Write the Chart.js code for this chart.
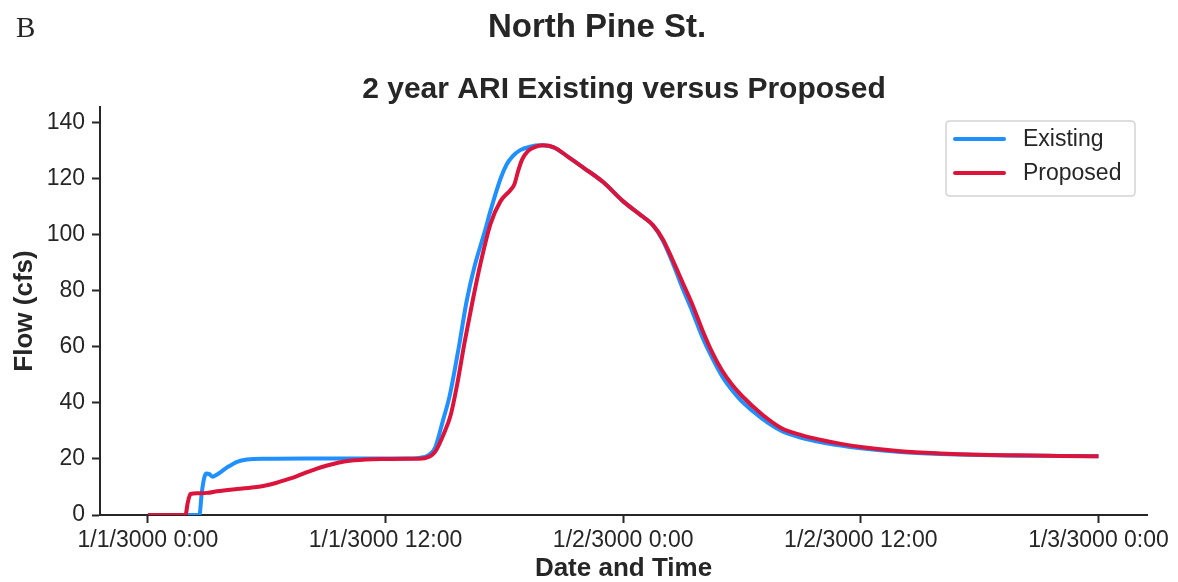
<!DOCTYPE html>
<html>
<head>
<meta charset="utf-8">
<script src="https://cdn.jsdelivr.net/npm/chart.js@4/dist/chart.umd.min.js"></script>
<style>
  html, body { margin: 0; padding: 0; background: #ffffff; }
  #wrap { width: 1178px; height: 582px; }
</style>
</head>
<body>
<div id="wrap"><canvas id="c" width="1178" height="582"></canvas></div>
<script>
// ---- data (hours since 1/1/3000 0:00, flow in cfs) ----
const existingHours = [0, 2.6, 2.72, 2.85, 2.95, 3.1, 3.25, 3.5, 4.0, 4.5, 5.0, 6, 8, 10, 12, 13, 13.7, 14.2, 14.5, 14.9, 15.25, 15.7, 16.1, 16.5, 17.0, 17.3, 17.8, 18.1, 18.4, 18.8, 19.3, 19.8, 20.5, 21.2, 22, 23, 24, 25, 25.5, 26, 26.5, 27, 27.5, 28, 28.5, 29, 29.5, 30, 31, 32, 33, 34, 35, 36, 38, 40, 42, 44, 46, 48];
const existingFlow  = [0, 0, 8, 13.5, 14.8, 14.6, 13.7, 14.5, 17, 19, 19.8, 20.1, 20.2, 20.2, 20.2, 20.2, 20.4, 21.5, 24, 33.8, 43, 60, 76.6, 89, 101, 108.7, 120, 125, 128, 130.3, 131.5, 132, 131.2, 128, 124, 118.8, 112, 106.5, 103.5, 98, 90, 81, 72.5, 63.5, 56, 49.5, 44.5, 40.5, 34.5, 30, 27.6, 26, 24.8, 23.8, 22.5, 21.8, 21.4, 21.2, 21.1, 21.0];

const proposedHours = [0, 1.9, 2.0, 2.15, 2.5, 3, 3.5, 4.5, 5.5, 6.0, 6.5, 7.0, 7.5, 8, 8.5, 9, 9.5, 10, 11, 12, 13, 13.7, 14.2, 14.5, 15.0, 15.3, 15.6, 16.0, 16.4, 16.8, 17.3, 17.8, 18.3, 18.5, 18.7, 18.9, 19.2, 19.5, 19.95, 20.5, 21.2, 22, 23, 24, 25, 25.5, 26, 26.5, 27, 27.5, 28, 28.5, 29, 29.5, 30, 31, 32, 33, 34, 35, 36, 38, 40, 42, 44, 46, 48];
const proposedFlow  = [0, 0, 4, 7.5, 7.8, 7.9, 8.5, 9.3, 10.0, 10.6, 11.5, 12.6, 13.8, 15.2, 16.5, 17.6, 18.5, 19.2, 19.8, 20, 20.1, 20.1, 20.8, 22.5, 30, 36, 46, 62, 76.6, 90, 104, 112, 116, 118, 123, 127, 130, 131.3, 132, 131.3, 128, 124, 118.8, 112, 106.5, 103.5, 98.5, 91, 83, 75, 66, 58, 51.5, 46.5, 42.5, 36, 31, 28.5, 26.8, 25.4, 24.3, 22.8, 22, 21.5, 21.3, 21.1, 21.0];

const xTickHours  = [0, 12, 24, 36, 48];
const xTickLabels = ['1/1/3000 0:00', '1/1/3000 12:00', '1/2/3000 0:00', '1/2/3000 12:00', '1/3/3000 0:00'];
const yTicks      = [0, 20, 40, 60, 80, 100, 120, 140];

const seriesNames = ['Existing', 'Proposed'];
const seriesColors = ['#1E90FF', '#DC143C'];

const panelLetter = 'B';
const mainTitle = 'North Pine St.';
const subTitle = '2 year ARI Existing versus Proposed';
const xTitle = 'Date and Time';
const yTitle = 'Flow (cfs)';

const INK = '#262626';
const SANS = '"Liberation Sans", Arial, Helvetica, sans-serif';

function pts(hs, vs) { return hs.map((h, i) => ({ x: h, y: vs[i] })); }

const overlay = {
  id: 'overlay',
  afterDraw(chart) {
    const ctx = chart.ctx;
    ctx.save();
    // panel letter
    ctx.fillStyle = INK;
    ctx.textBaseline = 'alphabetic';
    ctx.textAlign = 'left';
    ctx.font = '29px "Liberation Serif", "Times New Roman", serif';
    ctx.fillText(panelLetter, 16, 37);
    // titles
    ctx.textAlign = 'center';
    ctx.font = 'bold 33px ' + SANS;
    ctx.fillText(mainTitle, 597, 37);
    ctx.font = 'bold 30px ' + SANS;
    ctx.fillText(subTitle, 624, 98);

    // legend
    const bx = 946, by = 121, bw = 189, bh = 75, r = 4;
    ctx.beginPath();
    ctx.moveTo(bx + r, by);
    ctx.lineTo(bx + bw - r, by);
    ctx.quadraticCurveTo(bx + bw, by, bx + bw, by + r);
    ctx.lineTo(bx + bw, by + bh - r);
    ctx.quadraticCurveTo(bx + bw, by + bh, bx + bw - r, by + bh);
    ctx.lineTo(bx + r, by + bh);
    ctx.quadraticCurveTo(bx, by + bh, bx, by + bh - r);
    ctx.lineTo(bx, by + r);
    ctx.quadraticCurveTo(bx, by, bx + r, by);
    ctx.closePath();
    ctx.fillStyle = 'rgba(255,255,255,0.85)';
    ctx.fill();
    ctx.strokeStyle = '#d4d4d4';
    ctx.lineWidth = 1.5;
    ctx.stroke();

    const rows = [139, 173];
    ctx.lineCap = 'round';
    ctx.textAlign = 'left';
    ctx.textBaseline = 'middle';
    ctx.font = '23px ' + SANS;
    rows.forEach((y, i) => {
      ctx.beginPath();
      ctx.strokeStyle = seriesColors[i];
      ctx.lineWidth = 4;
      ctx.moveTo(955, y);
      ctx.lineTo(1004, y);
      ctx.stroke();
      ctx.fillStyle = INK;
      ctx.fillText(seriesNames[i], 1023, y + 1);
    });
    ctx.restore();
  }
};

new Chart(document.getElementById('c'), {
  type: 'line',
  data: {
    datasets: [
      {
        label: seriesNames[0],
        data: pts(existingHours, existingFlow),
        borderColor: seriesColors[0],
        backgroundColor: seriesColors[0],
        borderWidth: 4,
        pointRadius: 0,
        cubicInterpolationMode: 'monotone',
        order: 1
      },
      {
        label: seriesNames[1],
        data: pts(proposedHours, proposedFlow),
        borderColor: seriesColors[1],
        backgroundColor: seriesColors[1],
        borderWidth: 4,
        pointRadius: 0,
        cubicInterpolationMode: 'monotone',
        order: 0
      }
    ]
  },
  options: {
    responsive: false,
    animation: false,
    devicePixelRatio: 1,
    layout: { padding: { left: 0, right: 31, top: 107, bottom: 0 } },
    plugins: {
      legend: { display: false },
      title: { display: false },
      tooltip: { enabled: false }
    },
    scales: {
      x: {
        type: 'linear',
        min: -2.42,
        max: 50.45,
        afterBuildTicks(scale) { scale.ticks = xTickHours.map(v => ({ value: v })); },
        afterFit(scale) { scale.height = 67; scale.paddingLeft = 0; scale.paddingRight = 0; },
        ticks: {
          autoSkip: false,
          maxRotation: 0,
          minRotation: 0,
          padding: 4,
          color: INK,
          font: { family: SANS, size: 23 },
          callback(value) {
            const i = xTickHours.indexOf(value);
            return i >= 0 ? xTickLabels[i] : '';
          }
        },
        grid: { display: true, drawOnChartArea: false, drawTicks: true, tickLength: 8, tickColor: INK, tickWidth: 2 },
        border: { display: true, color: INK, width: 2 },
        title: {
          display: true,
          text: xTitle,
          color: INK,
          font: { family: SANS, size: 26, weight: 'bold', lineHeight: 1.0 },
          padding: { top: 0, bottom: 0 }
        }
      },
      y: {
        type: 'linear',
        min: 0,
        max: 145.7,
        afterBuildTicks(scale) { scale.ticks = yTicks.map(v => ({ value: v })); },
        afterFit(scale) { scale.width = 100; scale.paddingTop = 0; scale.paddingBottom = 0; },
        ticks: {
          padding: 7,
          color: INK,
          font: { family: SANS, size: 23 },
          callback(value) { return String(value); }
        },
        grid: { display: true, drawOnChartArea: false, drawTicks: true, tickLength: 8, tickColor: INK, tickWidth: 2 },
        border: { display: true, color: INK, width: 2 },
        title: {
          display: true,
          text: yTitle,
          color: INK,
          font: { family: SANS, size: 26, weight: 'bold', lineHeight: 1.0 },
          padding: { top: 12, bottom: 0 }
        }
      }
    }
  },
  plugins: [overlay]
});
</script>
</body>
</html>
